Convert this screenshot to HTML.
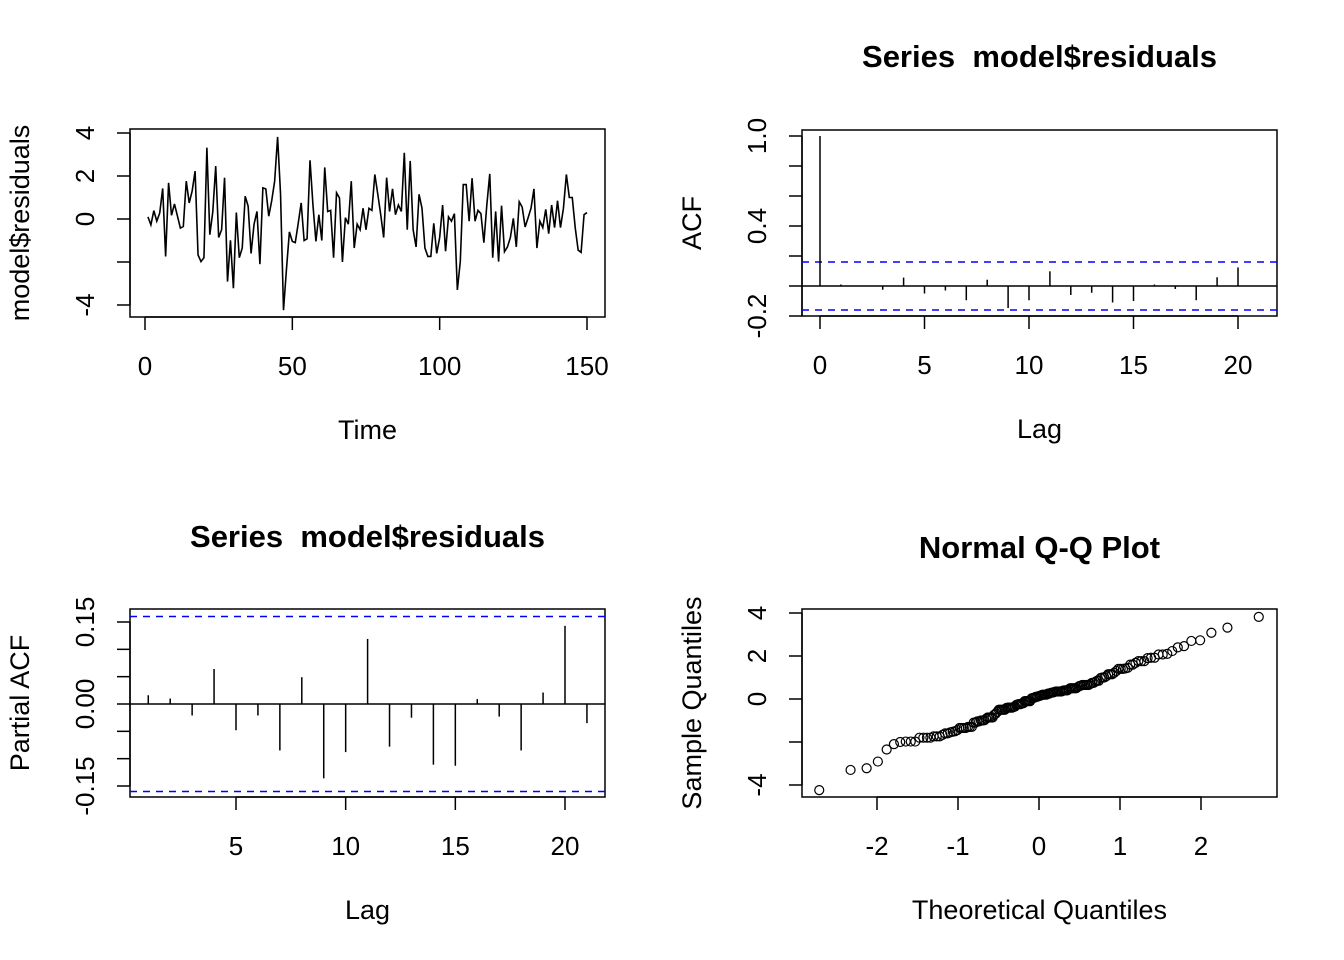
<!DOCTYPE html>
<html><head><meta charset="utf-8"><style>
body{margin:0;background:#fff}
svg{display:block;font-family:"Liberation Sans",Arial,sans-serif}
</style></head><body>
<svg id="c" width="1344" height="960"></svg>
<script>
const resid=[0.1,-0.27,0.39,-0.1,0.28,1.42,-1.74,1.68,0.17,0.7,0.14,-0.42,-0.35,1.76,0.75,1.3,2.23,-1.67,-1.98,-1.8,3.32,-0.73,0.33,2.46,-0.86,-0.5,1.92,-2.91,-0.99,-3.22,0.3,-1.8,-1.35,1.06,0.6,-1.6,-0.25,0.35,-2.1,1.45,1.4,0.13,0.85,1.76,3.82,1.15,-4.24,-2.35,-0.6,-1.04,-1.1,-0.2,0.75,-1.0,-0.92,2.73,0.65,-1.04,0.2,-1.0,2.4,0.35,0.4,-1.8,1.22,0.98,-2.0,0.06,-0.24,1.76,-1.35,-0.24,-0.5,0.5,-0.5,0.5,0.4,2.07,1.15,0.2,-0.86,1.92,0.35,1.4,0.2,0.65,0.35,3.08,-0.5,2.7,-0.5,-1.3,1.15,0.5,-1.35,-1.74,-1.74,-0.2,-1.6,-0.86,0.65,-1.5,0.1,-0.1,0.25,-3.3,-1.98,1.6,1.6,-0.1,1.9,-0.1,0.4,0.25,-1.1,0.65,2.1,-1.8,0.35,-1.98,0.62,-1.52,-1.3,-0.86,0.03,-1.3,0.8,0.55,-0.37,0.05,0.5,1.4,-1.35,-0.1,-0.4,0.45,-0.68,0.65,-0.4,0.85,-0.4,0.5,2.07,1.0,1.0,-0.4,-1.45,-1.55,0.2,0.3];
const acfVals=[1,0.01,0,-0.025,0.056,-0.05,-0.03,-0.095,0.042,-0.147,-0.095,0.098,-0.06,-0.045,-0.11,-0.1,0.01,-0.02,-0.095,0.058,0.124,0];
const pacfVals=[0.016,0.01,-0.021,0.064,-0.048,-0.021,-0.085,0.049,-0.136,-0.088,0.119,-0.078,-0.025,-0.111,-0.113,0.009,-0.023,-0.085,0.021,0.143,-0.035];
const ciAcf=0.16, ciPacf=0.16;
const tsXTicks=[0,50,100,150], tsYTicks=[4,2,0,-2,-4], tsYLabels=["4","2","0","","-4"];
const acfXTicks=[0,5,10,15,20], acfYTicks=[1,0.8,0.6,0.4,0.2,0,-0.2], acfYLabels=["1.0","","","0.4","","","-0.2"];
const pacfXTicks=[5,10,15,20], pacfYTicks=[0.15,0.1,0.05,0,-0.05,-0.1,-0.15], pacfYLabels=["0.15","","","0.00","","","-0.15"];
const qqXTicks=[-2,-1,0,1,2], qqYTicks=[4,2,0,-2,-4], qqYLabels=["4","2","0","","-4"];

const S=document.getElementById('c');const NS='http://www.w3.org/2000/svg';
function el(t,a,txt){const e=document.createElementNS(NS,t);for(const k in a)e.setAttribute(k,a[k]);if(txt!==undefined)e.textContent=txt;S.appendChild(e);return e;}
function lin(d0,d1,p0,p1){return v=>p0+(v-d0)*(p1-p0)/(d1-d0);}
function panel(name,box,sx,sy,xt,yt,yl,xlab,ylab,title,titleY){
  let e=el('rect',{x:box[0],y:box[1],width:box[2]-box[0],height:box[3]-box[1],fill:'none',stroke:'#000','stroke-width':1.5});
  
  xt.forEach(v=>{const x=sx(v);el('line',{x1:x,x2:x,y1:box[3],y2:box[3]+13,stroke:'#000','stroke-width':1.5});
    const t=el('text',{x:x,y:box[3]+58,'font-size':26,'text-anchor':'middle'},String(v));
    });
  el('line',{x1:sx(xt[0]),x2:sx(xt[xt.length-1]),y1:box[3],y2:box[3],stroke:'#000','stroke-width':1.5});
  yt.forEach((v,i)=>{const y=sy(v);el('line',{x1:box[0]-13,x2:box[0],y1:y,y2:y,stroke:'#000','stroke-width':1.5});
    if(yl[i]){const t=el('text',{x:0,y:0,'font-size':26,'text-anchor':'middle',transform:`translate(${box[0]-36},${y}) rotate(-90)`},yl[i]);
    }});
  el('line',{x1:box[0],x2:box[0],y1:sy(yt[0]),y2:sy(yt[yt.length-1]),stroke:'#000','stroke-width':1.5});
  let t=el('text',{x:(box[0]+box[2])/2,y:box[3]+122,'font-size':27,'text-anchor':'middle'},xlab);
  
  t=el('text',{x:0,y:0,'font-size':27,'text-anchor':'middle',transform:`translate(${box[0]-101},${(box[1]+box[3])/2}) rotate(-90)`},ylab);
  
  if(title){t=el('text',{x:(box[0]+box[2])/2,y:titleY,'font-size':31,'font-weight':'bold','text-anchor':'middle','xml:space':'preserve',style:'white-space:pre'},title);
  }
}
// Time series
{const box=[130,129,605,317];const sx=lin(0,150,145,587),sy=lin(0,4,219,133);
panel('residual-series',box,sx,sy,tsXTicks,tsYTicks,tsYLabels,'Time','model$residuals',null);
const p=el('polyline',{points:resid.map((v,i)=>sx(i+1)+','+sy(v)).join(' '),fill:'none',stroke:'#000','stroke-width':1.6});
}
// ACF
{const box=[802,130,1277,316];const sx=lin(0,20,820,1238),sy=lin(0,1,286,136);
panel('acf',box,sx,sy,acfXTicks,acfYTicks,acfYLabels,'Lag','ACF','Series  model$residuals',67);
el('line',{x1:box[0],x2:box[2],y1:sy(0),y2:sy(0),stroke:'#000','stroke-width':1.5});
[ciAcf,-ciAcf].forEach(c=>{const l=el('line',{x1:box[0],x2:box[2],y1:sy(c),y2:sy(c),stroke:'#00f','stroke-width':1.5,'stroke-dasharray':'7,6'});
});
acfVals.forEach((v,i)=>{const b=el('line',{x1:sx(i),x2:sx(i),y1:sy(0),y2:sy(v),stroke:'#000','stroke-width':1.5});
});}
// PACF
{const box=[130,609,605,797];const sx=lin(5,20,236,565),sy=lin(0,0.15,704,622);
panel('pacf',box,sx,sy,pacfXTicks,pacfYTicks,pacfYLabels,'Lag','Partial ACF','Series  model$residuals',547);
el('line',{x1:box[0],x2:box[2],y1:sy(0),y2:sy(0),stroke:'#000','stroke-width':1.5});
[ciPacf,-ciPacf].forEach(c=>{const l=el('line',{x1:box[0],x2:box[2],y1:sy(c),y2:sy(c),stroke:'#00f','stroke-width':1.5,'stroke-dasharray':'7,6'});
});
pacfVals.forEach((v,i)=>{const b=el('line',{x1:sx(i+1),x2:sx(i+1),y1:sy(0),y2:sy(v),stroke:'#000','stroke-width':1.5});
});}
// QQ
function qnorm(p){const a=[-3.969683028665376e+01,2.209460984245205e+02,-2.759285104469687e+02,1.383577518672690e+02,-3.066479806614716e+01,2.506628277459239e+00],
b=[-5.447609879822406e+01,1.615858368580409e+02,-1.556989798598866e+02,6.680131188771972e+01,-1.328068155288572e+01],
c=[-7.784894002430293e-03,-3.223964580411365e-01,-2.400758277161838e+00,-2.549732539343734e+00,4.374664141464968e+00,2.938163982698783e+00],
d=[7.784695709041462e-03,3.224671290700398e-01,2.445134137142996e+00,3.754408661907416e+00];
let q,r;if(p<0.02425){q=Math.sqrt(-2*Math.log(p));return (((((c[0]*q+c[1])*q+c[2])*q+c[3])*q+c[4])*q+c[5])/((((d[0]*q+d[1])*q+d[2])*q+d[3])*q+1);}
if(p>1-0.02425){q=Math.sqrt(-2*Math.log(1-p));return -(((((c[0]*q+c[1])*q+c[2])*q+c[3])*q+c[4])*q+c[5])/((((d[0]*q+d[1])*q+d[2])*q+d[3])*q+1);}
q=p-0.5;r=q*q;return (((((a[0]*r+a[1])*r+a[2])*r+a[3])*r+a[4])*r+a[5])*q/(((((b[0]*r+b[1])*r+b[2])*r+b[3])*r+b[4])*r+1);}
{const box=[802,609,1277,797];const sx=lin(0,1,1039,1120),sy=lin(0,4,699,613);
panel('qq',box,sx,sy,qqXTicks,qqYTicks,qqYLabels,'Theoretical Quantiles','Sample Quantiles','Normal Q-Q Plot',558);
const s=resid.slice().sort((a,b)=>a-b);const n=s.length;
s.forEach((v,i)=>{const th=qnorm((i+1-0.5)/n);const c=el('circle',{cx:sx(th),cy:sy(v),r:4.5,fill:'none',stroke:'#000','stroke-width':1.2});
});}
</script>
</body></html>
